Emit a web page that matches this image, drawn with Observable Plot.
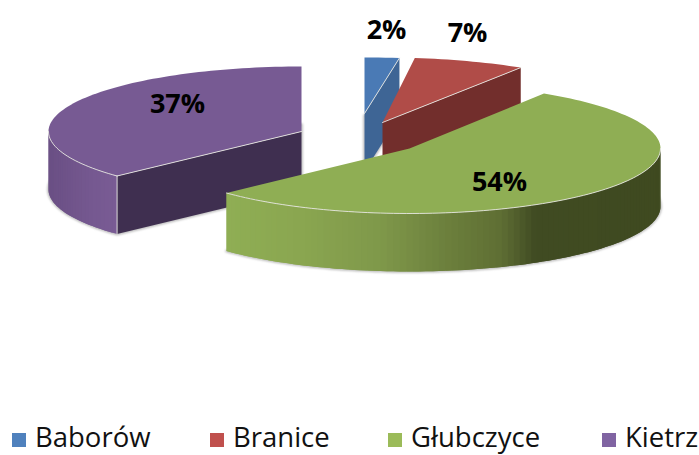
<!DOCTYPE html>
<html>
<head>
<meta charset="utf-8">
<script src="https://cdn.jsdelivr.net/npm/d3@7"></script>
<script src="https://cdn.jsdelivr.net/npm/@observablehq/plot@0.6"></script>
<style>
  html, body { margin: 0; padding: 0; background: #fff; }
  #chart { position: relative; width: 699px; height: 455px; overflow: hidden; }
  #chart svg { display: block; background: #fff; }
  .key { position: absolute; top: 420px; height: 33px; line-height: 33px; display: flex; align-items: center;
         font-family: "Open Sans", sans-serif; font-size: 27.5px; color: #111; white-space: nowrap; }
  .key i { display: inline-block; position: relative; top: 3px; width: 14px; height: 14px; margin-right: 9px; }
</style>
</head>
<body>
<div id="chart"></div>
<script>
// ---- data ----
const categories = ["Baborów", "Branice", "Głubczyce", "Kietrz"];
const values = [2, 7, 54, 37];
const labels = ["2%", "7%", "54%", "37%"];
const legendColors = ["#4f81bd", "#c0504d", "#9bbb59", "#8064a2"];

// ---- styling and 3D layout, kept apart from the data ----
const topColors = ["#4a7ab5", "#b04c48", "#8fae54", "#775a93"];
const cutColors = ["#3e6595", "#722e2c", "#4d5c2a", "#3f2f50"];
const apexX = [364, 382, 409, 301];
const apexY = [113, 122, 148, 131];
const radiusX = [279, 258, 251, 253];
const radiusY = [56, 65, 65, 65];
const labelDx = [22, 85, 90, -124];
const labelDy = [-83, -89, 34, -27];
const legendLeft = [12, 210, 388, 602];
const drawOrder = [0, 1, 3, 2];
const depth = 58;
const W = 699, H = 420;
const rad = Math.PI / 180;

// side shading as a function of screen x
const greenSide = d3.scaleLinear()
  .domain([226, 300, 380, 450, 500, 535, 660])
  .range(["#8fae54", "#8aa650", "#7f984a", "#6b7e3c", "#5f6f34", "#404b22", "#3f4a20"]);
const purpleSide = d3.scaleLinear().domain([48, 90, 120]).range(["#6a4f84", "#755890", "#7a5c95"]);
const sideShade = [() => "#3e6595", () => "#722e2c", greenSide, purpleSide];

// slice angles (degrees clockwise from 12 o'clock) come from the values
const total = d3.sum(values);
let cum = 0;
const slices = values.map((v, i) => {
  const a = (cum / total) * 360;
  cum += v;
  return { i, a, b: (cum / total) * 360 };
});

const rim = (s, t, dz = 0) => [
  apexX[s.i] + radiusX[s.i] * Math.sin(t * rad),
  apexY[s.i] - radiusY[s.i] * Math.cos(t * rad) + dz
];
const arc = (s, t0, t1, dz = 0) => {
  const n = Math.max(2, Math.ceil(Math.abs(t1 - t0) / 1.5));
  return d3.range(n + 1).map(k => rim(s, t0 + (t1 - t0) * k / n, dz));
};
const apex = (s, dz = 0) => [apexX[s.i], apexY[s.i] + dz];
const px = p => p[0], py = p => p[1];
const poly = (pts, fill, extra = {}) =>
  Plot.line([...pts, pts[0]], { x: px, y: py, fill, stroke: "none", ...extra });
const edge = pts =>
  Plot.line(pts, { x: px, y: py, stroke: "#e6e6e0", strokeWidth: 1, strokeOpacity: 0.9 });

const marks = [];

// soft ground shadows: bottom face outline
slices.forEach(s => {
  marks.push(Plot.line(
    [apex(s, depth), ...arc(s, s.a, s.b, depth), apex(s, depth)],
    { x: px, y: py, stroke: "#a9a9a9", strokeWidth: 2.5, strokeOpacity: 0.85, imageFilter: "blur(1px)" }
  ));
});

drawOrder.map(k => slices[k]).forEach(s => {
  const { i, a, b } = s;
  // cut face visible when it turns towards the viewer
  if (Math.sin(b * rad) > 0) {
    marks.push(poly([apex(s), rim(s, b), rim(s, b, depth), apex(s, depth)], cutColors[i]));
  }
  if (Math.sin(a * rad) < -0.01 && a > 180) {
    marks.push(poly([apex(s), rim(s, a), rim(s, a, depth), apex(s, depth)], cutColors[i]));
  }
  // outer wall, front half of the ellipse only, drawn as overlapping shaded strips
  const f0 = Math.max(a, 90), f1 = Math.min(b, 270);
  if (f1 > f0) {
    const n = Math.ceil((f1 - f0) / 1.5);
    const rows = [];
    d3.range(n).forEach(k => {
      const t0 = f0 + (f1 - f0) * k / n, t1 = f0 + (f1 - f0) * (k + 1) / n;
      const tEnd = Math.min(f1, t1 + (f1 - f0) / n);
      const c = sideShade[i]((rim(s, t0)[0] + rim(s, t1)[0]) / 2);
      [rim(s, t0), ...arc(s, t0, tEnd).slice(1), ...arc(s, tEnd, t0, depth), rim(s, t0)]
        .forEach(p => rows.push({ x: p[0], y: p[1], z: k, c }));
    });
    marks.push(Plot.line(rows, {
      x: "x", y: "y", z: "z",
      fill: { value: "c", scale: null },
      stroke: "none"
    }));
  }
  // top face
  marks.push(poly([apex(s), ...arc(s, a, b)], topColors[i]));
  if (f1 > f0) marks.push(edge(arc(s, f0, f1)));
  if (Math.sin(b * rad) > 0 && b < 180) marks.push(edge([apex(s), rim(s, b)]));
  if (a > 180) {
    marks.push(edge([apex(s), rim(s, a)]));
    marks.push(edge([rim(s, a), rim(s, a, depth)]));
  }
});

// percent labels
marks.push(Plot.text(labels, {
  x: (d, i) => apexX[i] + labelDx[i],
  y: (d, i) => apexY[i] + labelDy[i],
  text: d => d,
  fontFamily: "'Open Sans', sans-serif",
  fontWeight: 700,
  fontSize: 27,
  fill: "#000",
  textAnchor: "middle",
  lineAnchor: "middle"
}));

const plot = Plot.plot({
  width: W,
  height: H,
  margin: 0,
  x: { domain: [0, W], range: [0, W], axis: null },
  y: { domain: [0, H], range: [0, H], axis: null },
  marks
});

const root = document.getElementById("chart");
root.appendChild(plot);
categories.forEach((c, i) => {
  const d = document.createElement("div");
  d.className = "key";
  d.style.left = legendLeft[i] + "px";
  const sw = document.createElement("i");
  sw.style.background = legendColors[i];
  d.appendChild(sw);
  d.appendChild(document.createTextNode(c));
  root.appendChild(d);
});
</script>
</body>
</html>
